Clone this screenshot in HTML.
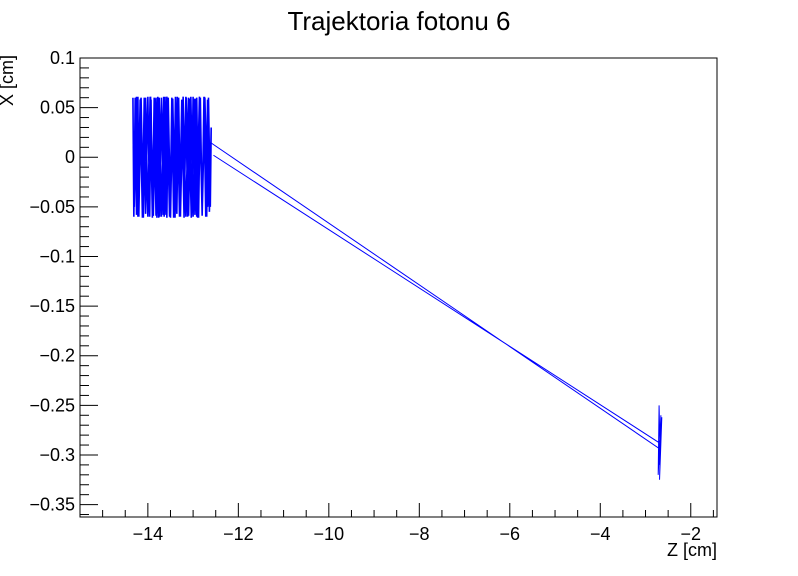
<!DOCTYPE html>
<html><head><meta charset="utf-8"><style>
body{margin:0;background:#fff;}
svg{display:block;font-family:"Liberation Sans",sans-serif;}
</style></head><body>
<svg id="chart" width="798" height="576">
<rect width="798" height="576" fill="#fff"/>
<text x="399" y="30" font-size="26" text-anchor="middle">Trajektoria fotonu 6</text>
<g id="axes"></g>
<g id="plot"></g>
<text x="717" y="556" font-size="18" text-anchor="end">Z [cm]</text>
<text transform="translate(13,55) rotate(-90)" font-size="18" text-anchor="end">X [cm]</text>
</svg>
<script>
const xTicks=[-14,-12,-10,-8,-6,-4,-2];
const yTicks=[0.1,0.05,0,-0.05,-0.1,-0.15,-0.2,-0.25,-0.3,-0.35];
const yTickLabels=["0.1","0.05","0","\u22120.05","\u22120.1","\u22120.15","\u22120.2","\u22120.25","\u22120.3","\u22120.35"];
// zig-zag region trajectory (z, x)
const zigZ=[-14.33,-14.31,-14.28,-14.25,-14.22,-14.2,-14.16,-14.12,-14.08,-14.05,-14.0,-13.96,-13.93,-13.9,-13.86,-13.82,-13.78,-13.74,-13.7,-13.66,-13.62,-13.58,-13.55,-13.51,-13.47,-13.43,-13.39,-13.36,-13.32,-13.28,-13.24,-13.2,-13.16,-13.12,-13.08,-13.04,-13.0,-12.96,-12.92,-12.88,-12.84,-12.8,-12.76,-12.72,-12.68,-12.64,-12.6,-12.62,-12.66,-12.7,-12.75,-12.8,-12.85,-12.9,-12.95,-13.0,-13.05,-13.1,-13.15,-13.2,-13.25,-13.3,-13.35,-13.4,-13.45,-13.5,-13.55,-13.6,-13.65,-13.7,-13.75,-13.8,-13.85,-13.9,-13.95,-14.0,-14.05,-14.1,-14.15,-14.2,-14.25,-14.3,-14.27,-14.22,-14.17,-14.12,-14.06,-14.0,-13.94,-13.88,-13.82,-13.76,-13.7,-13.64,-13.58,-13.52,-13.46,-13.4,-13.34,-13.28,-13.22,-13.16,-13.1,-13.04,-12.98,-12.92,-12.86,-12.8,-12.74,-12.68,-12.62];
const zigX=[0.06,-0.06,0.06,-0.058,0.061,-0.06,0.059,-0.061,0.06,-0.057,0.061,-0.06,0.058,-0.061,0.06,-0.059,0.061,-0.06,0.06,-0.058,0.061,-0.061,0.059,-0.06,0.06,-0.061,0.061,-0.057,0.06,-0.06,0.058,-0.061,0.061,-0.06,0.059,-0.06,0.061,-0.058,0.06,-0.061,0.06,-0.059,0.061,-0.06,0.058,-0.055,0.03,-0.05,0.06,-0.06,0.061,-0.058,0.06,-0.061,0.059,-0.06,0.061,-0.059,0.06,-0.061,0.058,-0.06,0.061,-0.06,0.059,-0.061,0.06,-0.058,0.061,-0.06,0.06,-0.061,0.059,-0.06,0.061,-0.058,0.06,-0.061,0.06,-0.059,0.061,-0.05,0.06,-0.06,0.058,-0.061,0.06,-0.06,0.061,-0.059,0.06,-0.061,0.058,-0.06,0.061,-0.06,0.059,-0.061,0.06,-0.058,0.061,-0.06,0.06,-0.061,0.059,-0.06,0.061,-0.058,0.06,-0.05,0.015];
// long transit and end spike
const pathZ=[-12.62,-2.68,-2.7,-2.72,-2.66,-2.69,-2.64,-2.7,-2.67,-2.72,-12.55];
const pathX=[0.015,-0.294,-0.25,-0.32,-0.26,-0.325,-0.262,-0.31,-0.285,-0.287,0.002];
const L=80,R=717,T=58,B=517,zMin=-15.5,zMax=-1.42,xMin=-0.3625,xMax=0.1;
const sx=z=>L+(z-zMin)/(zMax-zMin)*(R-L);
const sy=x=>B-(x-xMin)/(xMax-xMin)*(B-T);
const NS="http://www.w3.org/2000/svg";
const axes=document.getElementById('axes'),plot=document.getElementById('plot');
function mk(tag,attrs,parent){const e=document.createElementNS(NS,tag);for(const k in attrs)e.setAttribute(k,attrs[k]);parent.appendChild(e);return e;}
const frame=mk('rect',{x:L,y:T,width:R-L,height:B-T,fill:'none',stroke:'#000','stroke-width':1},axes);


for(let v=-15.5;v<=-1.5;v+=0.5){const X=sx(v);const major=Math.abs(v-Math.round(v/2)*2)<1e-6;
 const t=mk('line',{x1:X,x2:X,y1:B,y2:B-(major?14:7),stroke:'#000'},axes);
 
 }
xTicks.forEach(v=>{const t=mk('text',{x:sx(v),y:B+23,'font-size':18,'text-anchor':'middle'},axes);t.textContent=(v<0?'\u2212':'')+Math.abs(v);
 
 });
for(let i=-36;i<=10;i++){const v=i/100;const Y=sy(v);const major=i%5===0;
 const t=mk('line',{x1:L,x2:L+(major?18:9),y1:Y,y2:Y,stroke:'#000'},axes);
 
 }
yTicks.forEach((v,i)=>{const t=mk('text',{x:L-5,y:sy(v)+6,'font-size':18,'text-anchor':'end'},axes);t.textContent=yTickLabels[i];
 
 });
function poly(zs,xs,name,w){const p=mk('polyline',{points:zs.map((z,i)=>sx(z)+','+sy(xs[i])).join(' '),fill:'none',stroke:'#0000ff','stroke-width':w},plot);
 
 }
poly(zigZ,zigX,'trajectory-zigzag',1.6);
poly(pathZ,pathX,'trajectory-transit',1);
</script>
</body></html>
